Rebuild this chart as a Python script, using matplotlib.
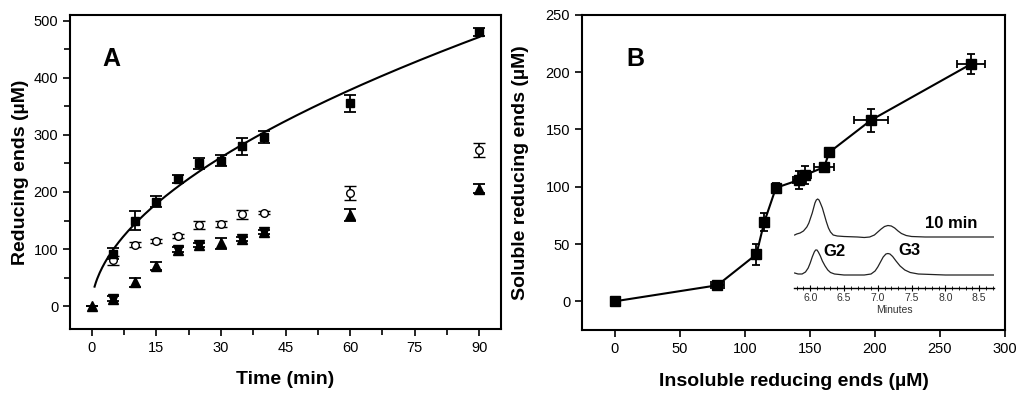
import numpy as np
import matplotlib
matplotlib.use("Agg")
import matplotlib.pyplot as plt
from matplotlib.ticker import MultipleLocator

plt.rcParams['font.family'] = ['Liberation Sans', 'DejaVu Sans']

# ---------------- Panel A data ----------------
time_sq = [5, 10, 15, 20, 25, 30, 35, 40, 60, 90]
red_sq = [92, 150, 183, 222, 250, 255, 280, 296, 355, 480]
err_sq = [10, 17, 10, 7, 10, 10, 15, 10, 15, 7]

time_ci = [5, 10, 15, 20, 25, 30, 35, 40, 60, 90]
red_ci = [80, 108, 114, 123, 143, 144, 161, 164, 198, 273]
err_ci = [8, 4, 3, 3, 7, 5, 8, 3, 12, 12]

time_tr = [0, 5, 10, 15, 20, 25, 30, 35, 40, 60, 90]
red_tr = [0, 13, 42, 70, 99, 107, 110, 118, 130, 160, 206]
err_tr = [0, 4, 8, 7, 4, 3, 10, 4, 4, 10, 8]
star_idx = [1, 4, 5, 7, 8]  # points drawn as overlapping up/down triangles

# ---------------- Panel B data ----------------
insol = [0, 79, 109, 115, 124, 142, 146, 161, 165, 197, 274]
sol = [0, 14, 41, 69, 99, 106, 110, 117, 130, 158, 207]
insol_err = [0, 5, 2, 2, 2, 5, 5, 8, 2, 13, 11]
sol_err = [0, 2, 9, 8, 4, 8, 8, 3, 3, 10, 9]

# ---------------- Inset chromatograms ----------------
t_up = [5.77, 5.80, 5.85, 5.90, 5.95, 5.98, 6.00, 6.03, 6.05, 6.07, 6.09, 6.11, 6.13,
        6.15, 6.18, 6.21, 6.24, 6.27, 6.30, 6.34, 6.40, 6.50, 6.70, 6.80, 6.88, 6.95,
        7.00, 7.05, 7.10, 7.15, 7.20, 7.25, 7.30, 7.35, 7.42, 7.50, 7.70, 8.00, 8.30, 8.72]
s_up = [53, 54, 55, 57, 61, 65, 69, 75, 80, 85, 88, 89, 88,
        85, 80, 73, 66, 60, 56, 53, 52, 51.5, 51, 50.5, 51, 53,
        56, 59, 61.5, 62.5, 62, 60, 57, 54.5, 52.5, 51.5, 51, 51, 51, 51]
t_lo = [5.77, 5.82, 5.88, 5.93, 5.97, 6.00, 6.03, 6.06, 6.08, 6.10, 6.12, 6.15, 6.18,
        6.22, 6.26, 6.30, 6.36, 6.50, 6.80, 6.90, 6.96, 7.00, 7.04, 7.08, 7.12, 7.15,
        7.18, 7.22, 7.27, 7.33, 7.40, 7.48, 7.60, 8.00, 8.72]
s_lo = [15, 14, 14, 16, 20, 25, 31, 36, 38, 38, 36, 32, 27,
        22, 18, 15.5, 14, 13, 13, 14, 17, 21, 26, 31, 34, 34.5,
        34, 31.5, 27, 22, 18, 15.5, 14, 13, 13]

fig = plt.figure(figsize=(10.24, 3.96), dpi=100)

# ================= Panel A =================
axA = fig.add_axes([70/1024, (396-329)/396, 431/1024, 314/396])
kw = dict(color='black', ecolor='black', elinewidth=1.3, capsize=4, capthick=1.3, linestyle='none')
axA.errorbar(time_ci, red_ci, yerr=err_ci, marker='o', markersize=5.5, markerfacecolor='white',
             markeredgecolor='black', markeredgewidth=1, **kw)
axA.errorbar(time_tr, red_tr, yerr=err_tr, marker='^', markersize=6.5, **kw)
axA.plot([time_tr[i] for i in star_idx], [red_tr[i] for i in star_idx], linestyle='none',
         marker='v', markersize=6.5, color='black')
axA.errorbar(time_sq, red_sq, yerr=err_sq, marker='s', markersize=5.5, **kw)

# power-law fit to the filled-square series
b, loga = np.polyfit(np.log(time_sq), np.log(red_sq), 1)
tfit = np.linspace(0.7, 90, 300)
axA.plot(tfit, np.exp(loga) * tfit ** b, color='black', linewidth=1.5)

axA.set_xlim(-5, 95)
axA.set_ylim(-40, 510)
axA.xaxis.set_major_locator(MultipleLocator(15))
axA.xaxis.set_minor_locator(MultipleLocator(7.5))
axA.yaxis.set_major_locator(MultipleLocator(100))
axA.yaxis.set_minor_locator(MultipleLocator(50))
axA.tick_params(which='both', direction='out', width=1.2, labelsize=10.5)
axA.tick_params(which='major', length=5)
axA.tick_params(which='minor', length=4)
for s in axA.spines.values():
    s.set_linewidth(1.5)
axA.set_xlabel('Time (min)', fontsize=14, fontweight='bold')
axA.set_ylabel('Reducing ends (\u00b5M)', fontsize=14, fontweight='bold')
axA.xaxis.set_label_coords(0.5, -0.135)
axA.yaxis.set_label_coords(-0.095, 0.5)
axA.text(0.075, 0.86, 'A', transform=axA.transAxes, fontsize=18, fontweight='bold',
         va='center', ha='left')

# ================= Panel B =================
axB = fig.add_axes([582/1024, (396-330)/396, 423/1024, 315.3/396])
axB.errorbar(insol, sol, xerr=insol_err, yerr=sol_err, marker='s', markersize=7,
             color='black', ecolor='black', elinewidth=1.3, capsize=3, capthick=1.3,
             linewidth=1.5)
axB.set_xlim(-25, 300)
axB.set_ylim(-25, 250)
axB.xaxis.set_major_locator(MultipleLocator(50))
axB.yaxis.set_major_locator(MultipleLocator(50))
axB.tick_params(which='both', direction='out', width=1.2, length=5, labelsize=10.5)
for s in axB.spines.values():
    s.set_linewidth(1.5)
axB.set_xlabel('Insoluble reducing ends (\u00b5M)', fontsize=14, fontweight='bold')
axB.set_ylabel('Soluble reducing ends (\u00b5M)', fontsize=14, fontweight='bold')
axB.xaxis.set_label_coords(0.5, -0.135)
axB.yaxis.set_label_coords(-0.125, 0.5)
axB.text(0.105, 0.86, 'B', transform=axB.transAxes, fontsize=18, fontweight='bold',
         va='center', ha='left')

# ================= Inset =================
axI = fig.add_axes([794/1024, (396-288)/396, 200/1024, 95/396])
axI.patch.set_alpha(0)
axI.plot(t_up, s_up, color='#222222', linewidth=0.9)
axI.plot(t_lo, s_lo, color='#222222', linewidth=0.9)
axI.set_xlim(5.76, 8.72)
axI.set_ylim(0, 95)
for k in ['top', 'left', 'right']:
    axI.spines[k].set_visible(False)
axI.spines['bottom'].set_linewidth(1.0)
axI.set_yticks([])
axI.xaxis.set_major_locator(MultipleLocator(0.5))
axI.xaxis.set_minor_locator(MultipleLocator(0.1))
axI.tick_params(axis='x', which='major', direction='inout', length=4, width=0.8,
                labelsize=7.5, pad=1.5, labelcolor='#333333')
axI.tick_params(axis='x', which='minor', direction='inout', length=2.5, width=0.6)
axI.set_xlabel('Minutes', fontsize=7.5, labelpad=1.5, color='#333333')
axI.text(8.48, 65, '10 min', fontsize=12, fontweight='bold', ha='right', va='center')
axI.text(6.19, 37, 'G2', fontsize=12, fontweight='bold', ha='left', va='center')
axI.text(7.30, 38, 'G3', fontsize=12, fontweight='bold', ha='left', va='center')

fig.savefig('out.png', dpi=100)
